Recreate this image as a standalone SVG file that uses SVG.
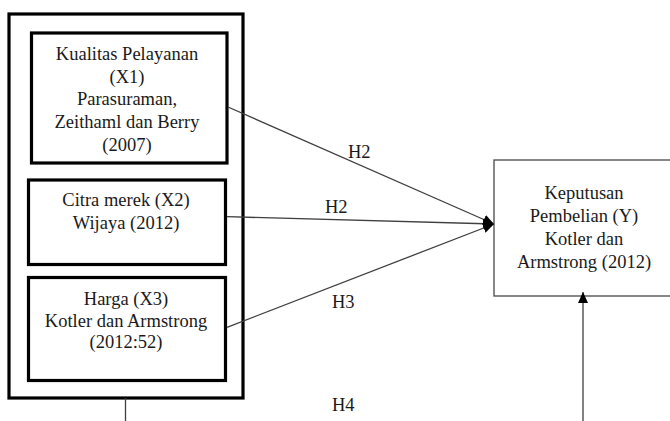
<svg xmlns="http://www.w3.org/2000/svg" width="670" height="421" viewBox="0 0 670 421">
<defs>
<marker id="ah" markerUnits="userSpaceOnUse" markerWidth="12" markerHeight="10" refX="11" refY="5" orient="auto">
<path d="M0,0 L11,5 L0,10 z" fill="#000"/>
</marker>
</defs>
<rect width="670" height="421" fill="#fff"/>
<g id="outer">
<rect x="9" y="14" width="234" height="384" fill="#fff" stroke="#000" stroke-width="3.2"/>
</g>
<g id="x1">
<rect x="31.5" y="33" width="195.5" height="130" fill="#fff" stroke="#000" stroke-width="3.2"/>
<text x="127" y="59.5" font-family="Liberation Serif" font-size="18.5" fill="#1a1a1a" text-anchor="middle">Kualitas Pelayanan</text>
<text x="127" y="82.5" font-family="Liberation Serif" font-size="18.5" fill="#1a1a1a" text-anchor="middle">(X1)</text>
<text x="127" y="105" font-family="Liberation Serif" font-size="18.5" fill="#1a1a1a" text-anchor="middle">Parasuraman,</text>
<text x="127" y="128" font-family="Liberation Serif" font-size="18.5" fill="#1a1a1a" text-anchor="middle">Zeithaml dan Berry</text>
<text x="127" y="151" font-family="Liberation Serif" font-size="18.5" fill="#1a1a1a" text-anchor="middle">(2007)</text>
</g>
<g id="x2">
<rect x="28.5" y="180" width="197" height="84.5" fill="#fff" stroke="#000" stroke-width="3.2"/>
<text x="126" y="206" font-family="Liberation Serif" font-size="18.5" fill="#1a1a1a" text-anchor="middle">Citra merek (X2)</text>
<text x="126" y="229" font-family="Liberation Serif" font-size="18.5" fill="#1a1a1a" text-anchor="middle">Wijaya (2012)</text>
</g>
<g id="x3">
<rect x="28.5" y="277.5" width="197" height="103" fill="#fff" stroke="#000" stroke-width="3.2"/>
<text x="126" y="305" font-family="Liberation Serif" font-size="18.5" fill="#1a1a1a" text-anchor="middle">Harga (X3)</text>
<text x="126" y="326.5" font-family="Liberation Serif" font-size="18.5" fill="#1a1a1a" text-anchor="middle">Kotler dan Armstrong</text>
<text x="126" y="348" font-family="Liberation Serif" font-size="18.5" fill="#1a1a1a" text-anchor="middle">(2012:52)</text>
</g>
<g id="y">
<rect x="494" y="160" width="182" height="136" fill="#fff" stroke="#555" stroke-width="1.4"/>
<text x="584" y="199" font-family="Liberation Serif" font-size="18.5" fill="#1a1a1a" text-anchor="middle">Keputusan</text>
<text x="584" y="222" font-family="Liberation Serif" font-size="18.5" fill="#1a1a1a" text-anchor="middle">Pembelian (Y)</text>
<text x="584" y="244.5" font-family="Liberation Serif" font-size="18.5" fill="#1a1a1a" text-anchor="middle">Kotler dan</text>
<text x="584" y="267.5" font-family="Liberation Serif" font-size="18.5" fill="#1a1a1a" text-anchor="middle">Armstrong (2012)</text>
</g>
<g id="connectors" fill="none" stroke="#404040" stroke-width="1.3">
<line x1="228" y1="107" x2="494" y2="224" marker-end="url(#ah)"/>
<line x1="227" y1="216.7" x2="494" y2="224" marker-end="url(#ah)"/>
<line x1="227" y1="327.3" x2="494" y2="224" marker-end="url(#ah)"/>
<line x1="583" y1="421" x2="583" y2="292" marker-end="url(#ah)"/>
<line x1="125.5" y1="398" x2="125.5" y2="421"/>
</g>
<g id="labels">
<text x="348" y="158" font-family="Liberation Serif" font-size="18.5" fill="#1a1a1a">H2</text>
<text x="325" y="213" font-family="Liberation Serif" font-size="18.5" fill="#1a1a1a">H2</text>
<text x="332" y="308" font-family="Liberation Serif" font-size="18.5" fill="#1a1a1a">H3</text>
<text x="332" y="411" font-family="Liberation Serif" font-size="18.5" fill="#1a1a1a">H4</text>
</g>
</svg>
